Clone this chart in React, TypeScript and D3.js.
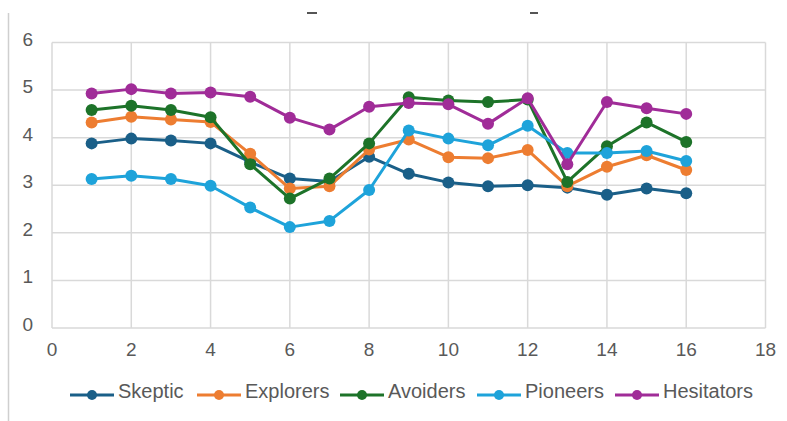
import React from "react";
import * as d3 from "d3";

const xValues = [1, 2, 3, 4, 5, 6, 7, 8, 9, 10, 11, 12, 13, 14, 15, 16];
const skeptic = [3.88, 3.98, 3.94, 3.88, 3.49, 3.14, 3.08, 3.6, 3.24, 3.06, 2.98, 3.0, 2.95, 2.8, 2.93, 2.83];
const explorers = [4.32, 4.44, 4.38, 4.33, 3.66, 2.93, 2.98, 3.75, 3.96, 3.59, 3.57, 3.74, 2.98, 3.39, 3.63, 3.32];
const avoiders = [4.58, 4.67, 4.58, 4.43, 3.44, 2.72, 3.14, 3.88, 4.85, 4.78, 4.75, 4.8, 3.07, 3.82, 4.32, 3.91];
const pioneers = [3.13, 3.2, 3.13, 2.99, 2.53, 2.12, 2.25, 2.9, 4.15, 3.98, 3.84, 4.25, 3.68, 3.68, 3.72, 3.51];
const hesitators = [4.93, 5.02, 4.93, 4.95, 4.86, 4.42, 4.17, 4.65, 4.73, 4.7, 4.29, 4.83, 3.44, 4.75, 4.62, 4.5];

const seriesNames = ["Skeptic", "Explorers", "Avoiders", "Pioneers", "Hesitators"];
const seriesColors = ["#1a5f88", "#ed7d31", "#1d7329", "#1ea3da", "#a02c98"];
const seriesData = [skeptic, explorers, avoiders, pioneers, hesitators];

const xTicks = [0, 2, 4, 6, 8, 10, 12, 14, 16, 18];
const yTicks = [0, 1, 2, 3, 4, 5, 6];

const legendLineX = [70, 197, 340, 477, 615];

export default function App() {
  const W = 787, H = 421;
  const x = d3.scaleLinear().domain([0, 18]).range([52, 765.5]);
  const y = d3.scaleLinear().domain([0, 6]).range([328, 42.5]);
  const line = d3
    .line<number>()
    .x((_, i) => x(xValues[i]))
    .y((d) => y(d));
  const font = "'Liberation Sans', Arial, Helvetica, sans-serif";
  return (
    <svg
      width={W}
      height={H}
      style={{ position: "fixed", left: 0, top: 0, background: "#fff" }}
      fontFamily={font}
    >
      <rect x={0} y={0} width={W} height={H} fill="#fff" />
      <line x1={8.5} x2={8.5} y1={13} y2={H} stroke="#cfcfcf" strokeWidth={1.5} />
      <rect x={307} y={12} width={10} height={2} fill="#555" />
      <rect x={530} y={12} width={8} height={2} fill="#555" />
      {/* grid */}
      {yTicks.map((t) => (
        <line key={"gy" + t} x1={x(0)} x2={x(18)} y1={y(t)} y2={y(t)} stroke="#d9d9d9" strokeWidth={1.5} />
      ))}
      {xTicks.map((t) => (
        <line key={"gx" + t} x1={x(t)} x2={x(t)} y1={y(0)} y2={y(6)} stroke="#d9d9d9" strokeWidth={1.5} />
      ))}
      {yTicks.map((t) => (
        <text key={"ty" + t} x={33} y={y(t) - 2} textAnchor="end" dominantBaseline="middle" fontSize={19} fill="#595959">
          {t}
        </text>
      ))}
      {xTicks.map((t) => (
        <text key={"tx" + t} x={x(t)} y={351} textAnchor="middle" dominantBaseline="middle" fontSize={19} fill="#595959">
          {t}
        </text>
      ))}
      {seriesData.map((s, si) => (
        <g key={"s" + si}>
          <path d={line(s) || ""} fill="none" stroke={seriesColors[si]} strokeWidth={3} strokeLinejoin="round" />
          {s.map((v, i) => (
            <circle key={i} cx={x(xValues[i])} cy={y(v)} r={6} fill={seriesColors[si]} />
          ))}
        </g>
      ))}
      {seriesNames.map((n, si) => (
        <g key={"l" + si}>
          <line x1={legendLineX[si]} x2={legendLineX[si] + 44} y1={395} y2={395} stroke={seriesColors[si]} strokeWidth={3} />
          <circle cx={legendLineX[si] + 22} cy={395} r={5} fill={seriesColors[si]} />
          <text x={legendLineX[si] + 48} y={393} dominantBaseline="middle" fontSize={20} fill="#595959">
            {n}
          </text>
        </g>
      ))}
    </svg>
  );
}
